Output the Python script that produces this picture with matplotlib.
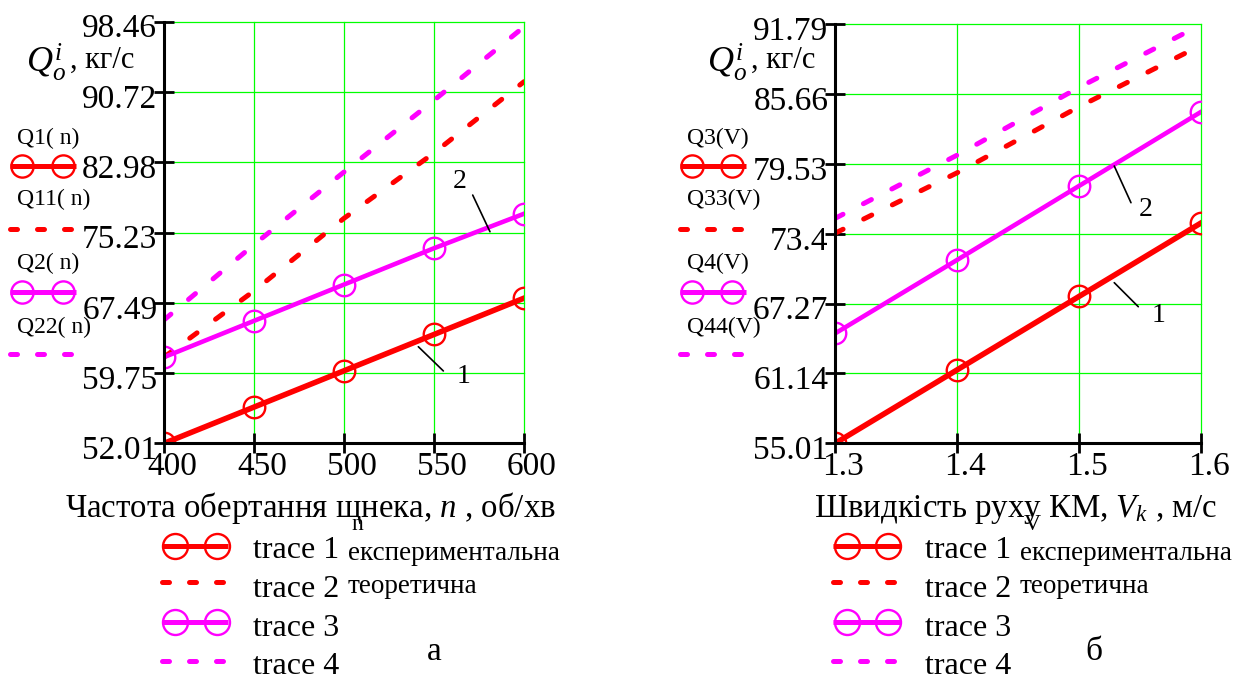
import numpy as np
import matplotlib
matplotlib.use("Agg")
import matplotlib.pyplot as plt
from matplotlib.lines import Line2D
from matplotlib.transforms import ScaledTranslation

plt.rcParams['font.family'] = ['Liberation Serif', 'DejaVu Serif']
plt.rcParams['mathtext.fontset'] = 'custom'
plt.rcParams['mathtext.rm'] = 'Liberation Serif'
plt.rcParams['mathtext.it'] = 'Liberation Serif:italic'

# --- data (а): частота обертання шнека n, об/хв
n = [400, 450, 500, 550, 600]
q1 = [52.0, 56.0, 60.0, 64.0, 68.0]       # експериментальна
q11 = [61.5, 68.8, 76.8, 84.0, 91.85]     # теоретична
q2 = [61.5, 65.5, 69.5, 73.5, 77.3]
q22 = [65.6, 73.9, 81.9, 89.8, 97.9]

# --- data (б): швидкість руху КМ V, м/с
v = [1.3, 1.4, 1.5, 1.6]
q3 = [55.0, 61.45, 67.9, 74.35]
q33 = [73.45, 78.75, 84.55, 89.95]
q4 = [64.65, 71.1, 77.6, 84.1]
q44 = [74.75, 80.3, 86.25, 91.75]

yticks_a = [52.01, 59.75, 67.49, 75.23, 82.98, 90.72, 98.46]
ylabels_a = ["52.01", "59.75", "67.49", "75.23", "82.98", "90.72", "98.46"]
xticks_a = [400, 450, 500, 550, 600]
yticks_b = [55.01, 61.14, 67.27, 73.4, 79.53, 85.66, 91.79]
ylabels_b = ["55.01", "61.14", "67.27", "73.4", "79.53", "85.66", "91.79"]
xticks_b = [1.3, 1.4, 1.5, 1.6]
xlabels_b = ["1.3", "1.4", "1.5", "1.6"]

RED = '#ff0000'
MAG = '#ff00ff'
GRID = '#00ff00'
W, H = 1234, 675

fig = plt.figure(figsize=(W / 100, H / 100), dpi=100)
ax1 = fig.add_axes([164 / W, 1 - 443.3 / H, 360 / W, (443.3 - 21.7) / H])
ax2 = fig.add_axes([835 / W, 1 - 443.3 / H, 366 / W, (443.3 - 24.3) / H])

DASH = (0, (1.8, 4.6))


def style(ax, xt, xl, yt, yl):
    ax.set_xlim(xt[0], xt[-1])
    ax.set_ylim(yt[0], yt[-1])
    ax.set_xticks(xt)
    ax.set_xticklabels(xl)
    ax.set_yticks(yt)
    ax.set_yticklabels(yl)
    for s in ['top', 'right']:
        ax.spines[s].set_visible(False)
    for s in ['left', 'bottom']:
        ax.spines[s].set_linewidth(2.2)
    ax.grid(True, color=GRID, lw=0.9)
    ax.set_axisbelow(True)
    for g in ax.get_xgridlines() + ax.get_ygridlines():
        g.set_clip_on(False)
    ax.tick_params(axis='y', direction='inout', length=14.4, width=2.0,
                   labelsize=24, pad=-2.4)
    ax.tick_params(axis='x', direction='inout', length=15, width=2.0,
                   labelsize=24, pad=-1.5)
    for lb in ax.get_xticklabels():
        lb.set_transform(lb.get_transform() + ScaledTranslation(0.08, 0, fig.dpi_scale_trans))
    for lb in ax.get_yticklabels():
        lb.set_transform(lb.get_transform() + ScaledTranslation(0, -0.04, fig.dpi_scale_trans))


def traces(ax, x, s1, s2, s3, s4):
    ax.plot(x, s1, color=RED, lw=4.0, marker='o', ms=15.5, mfc='none', mec=RED, mew=1.7)
    ax.plot(x, s2, color=RED, lw=3.6, ls=DASH, dash_capstyle='round')
    ax.plot(x, s3, color=MAG, lw=3.3, marker='o', ms=15.5, mfc='none', mec=MAG, mew=1.7)
    ax.plot(x, s4, color=MAG, lw=3.6, ls=DASH, dash_capstyle='round')


traces(ax1, n, q1, q11, q2, q22)
traces(ax2, v, q3, q33, q4, q44)
style(ax1, xticks_a, [str(t) for t in xticks_a], yticks_a, ylabels_a)
style(ax2, xticks_b, xlabels_b, yticks_b, ylabels_b)

# leader lines with curve numbers
def leader(ax, txt, tpos, p0, p1):
    ax.text(*tpos, txt, fontsize=20, ha='center', va='center')
    ax.annotate('', xy=p1, xytext=p0,
                arrowprops=dict(arrowstyle='-', lw=1.2, color='k', shrinkA=0, shrinkB=0))

leader(ax1, '2', (564.4, 80.83), (571.5, 79.36), (581.1, 75.32))
leader(ax1, '1', (566.3, 59.35), (555.2, 59.98), (541.3, 62.65))
leader(ax2, '2', (1.5549, 75.55), (1.5426, 76.13), (1.5289, 79.35))
leader(ax2, '1', (1.565, 66.27), (1.5486, 67.0), (1.5289, 69.11))


def ftext(x, y, s, **kw):
    fig.text(x / W, 1 - y / H, s, va='baseline', **kw)


def sample(x0, x1, y, color, ls, lw, mk=None, ms=16, dashes=None):
    ln = Line2D([x0 / W, x1 / W], [1 - y / H] * 2, transform=fig.transFigure,
                color=color, lw=lw, solid_capstyle='butt', dash_capstyle='round')
    if dashes is not None:
        ln.set_linestyle((0, dashes))
    fig.add_artist(ln)
    if mk:
        fig.add_artist(Line2D([m / W for m in mk], [1 - y / H] * len(mk),
                              transform=fig.transFigure, ls='none', marker='o', ms=ms,
                              mfc='none', mec=color, mew=1.7))


# y-axis titles
ftext(26, 72, r'$Q_o^i$', fontsize=26)
ftext(70, 68, ', кг/с', fontsize=22)
ftext(707, 72, r'$Q_o^i$', fontsize=26)
ftext(751, 68, ', кг/с', fontsize=22)

# trace names beside the y axis
side = [("Q1( n)", "Q11( n)", "Q2( n)", "Q22( n)", 17, 10, 76, 21.7, 63.3),
        ("Q3(V)", "Q33(V)", "Q4(V)", "Q44(V)", 687, 680, 746, 691.7, 731.7)]
for a, b, c, d, tx, s0, s1, m0, m1 in side:
    ftext(tx, 144, a, fontsize=17)
    sample(s0, s1, 165.7, RED, '-', 3.6, mk=[m0, m1])
    ftext(tx, 205, b, fontsize=17)
    sample(s0, s1 - 2, 228.7, RED, '--', 3.6, dashes=(1.4, 4.0))
    ftext(tx, 269, c, fontsize=17)
    sample(s0, s1, 291.7, MAG, '-', 3.6, mk=[m0, m1])
    ftext(tx, 332.7, d, fontsize=17)
    sample(s0, s1 - 2, 354, MAG, '--', 3.6, dashes=(1.4, 4.0))

# x-axis titles
ftext(310, 517, 'Частота обертання щнека, $n$ , об/хв', fontsize=23.7, ha='center')
ftext(357, 530, 'n', fontsize=17, ha='center')
ftext(1016, 517, 'Швидкість руху КМ, $V_k$ , м/с', fontsize=23.7, ha='center')
ftext(1032, 530, 'V', fontsize=17, ha='center')

# bottom legends
rows_text = [558, 597, 636, 674]
rows_line = [546, 582.3, 621.7, 660.7]
for s0, s1, m0, m1, tx, ex in [(161.7, 228.3, 175, 216.7, 253.3, 348),
                               (833, 900, 846.7, 888.3, 925, 1020)]:
    sample(s0, s1, rows_line[0], RED, '-', 3.6, mk=[m0, m1], ms=18)
    sample(s0, s1, rows_line[1], RED, '--', 3.6, dashes=(1.4, 4.0))
    sample(s0, s1, rows_line[2], MAG, '-', 3.6, mk=[m0, m1], ms=18)
    sample(s0, s1, rows_line[3], MAG, '--', 3.6, dashes=(1.4, 4.0))
    for i, r in enumerate(rows_text):
        ftext(tx, r, 'trace %d' % (i + 1), fontsize=23)
    ftext(ex, 560, 'експериментальна', fontsize=19.5)
    ftext(ex, 593, 'теоретична', fontsize=19.5)

ftext(434, 660, 'а', fontsize=24, ha='center')
ftext(1094, 660, 'б', fontsize=24, ha='center')

fig.savefig('out.png', dpi=100)
